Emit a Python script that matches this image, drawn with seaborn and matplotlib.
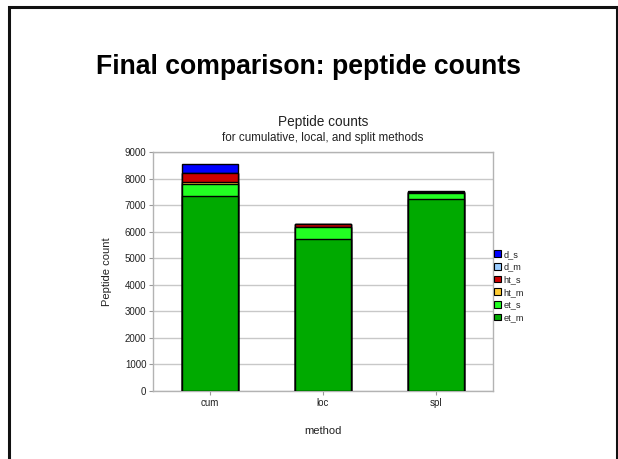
import numpy as np
import pandas as pd
import matplotlib
matplotlib.use("Agg")
import matplotlib.pyplot as plt
from matplotlib.patches import Patch, Rectangle
import seaborn as sns

methods = ["cum", "loc", "spl"]
series = ["et_m", "et_s", "ht_m", "ht_s", "d_m", "d_s"]
et_m = [7340, 5720, 7240]
et_s = [450, 450, 210]
ht_m = [75, 0, 50]
ht_s = [340, 110, 20]
d_m = [0, 0, 0]
d_s = [355, 0, 30]
colors = {"et_m": "#00aa00", "et_s": "#22ff22", "ht_m": "#ffcc33",
          "ht_s": "#cc0000", "d_m": "#99ccff", "d_s": "#0000ff"}

values = {"et_m": et_m, "et_s": et_s, "ht_m": ht_m, "ht_s": ht_s, "d_m": d_m, "d_s": d_s}

sns.set_theme(style="white")
plt.rcParams['font.family'] = ['Liberation Sans', 'DejaVu Sans']

fig = plt.figure(figsize=(6.18, 4.59), dpi=100)
fig.patch.set_facecolor("white")

# slide border
fig.add_artist(Rectangle((9/618, -0.05), 608/618, 1 - 7/459 + 0.05, transform=fig.transFigure,
                         fill=False, edgecolor="#111111", linewidth=2.2))

fig.text(0.5, 1 - 67/459, "Final comparison: peptide counts", ha="center", va="center",
         fontsize=19.2, fontweight="bold", color="black")

ax = fig.add_axes([153.3/618, 1 - 390.7/459, (492.7 - 153.3)/618, (390.7 - 152.3)/459])

cum = np.zeros(len(methods))
tops = []
for s in series:
    cum = cum + np.array(values[s])
    tops.append((s, cum.copy()))

for s, top in reversed(tops):
    df = pd.DataFrame({"method": methods, "count": top})
    sns.barplot(data=df, x="method", y="count", ax=ax, color=colors[s], width=0.5,
                edgecolor="black", linewidth=1.0, saturation=1, zorder=3)

ax.set_ylim(0, 9000)
ax.set_yticks(np.arange(0, 9001, 1000))
ax.set_xlim(-0.5, 2.5)
ax.grid(axis="y", color="#c8c8c8", linewidth=1.0, zorder=0)
ax.set_axisbelow(True)
for sp in ax.spines.values():
    sp.set_color("#b3b3b3")
    sp.set_linewidth(1.0)
ax.tick_params(axis="both", labelsize=7, colors="#999999", length=3, width=0.8,
               direction="out", left=True, bottom=True, pad=2)
for lab in ax.get_xticklabels() + ax.get_yticklabels():
    lab.set_color("#222222")
ax.set_xlabel("method", fontsize=8, color="#222222", labelpad=13)
ax.set_ylabel("Peptide count", fontsize=8, color="#222222", labelpad=9)

ax.text(0.5, 1 + (152.3 - 121.7)/238.4, "Peptide counts", transform=ax.transAxes,
        ha="center", va="center", fontsize=9.8, color="#222222")
ax.text(0.5, 1 + (152.3 - 138.5)/238.4, "for cumulative, local, and split methods",
        transform=ax.transAxes, ha="center", va="center", fontsize=8.4, color="#222222")

handles = [Patch(facecolor=colors[s], edgecolor="black", linewidth=0.8, label=s)
           for s in reversed(series)]
fig.legend(handles=handles, loc="upper left", bbox_to_anchor=(494/618, 1 - 250/459),
           frameon=False, fontsize=6.6, handlelength=0.75, handleheight=0.75,
           handletextpad=0.3, labelspacing=0.4, borderpad=0, borderaxespad=0,
           labelcolor="#222222")

fig.savefig("out.png", dpi=100, facecolor="white")
